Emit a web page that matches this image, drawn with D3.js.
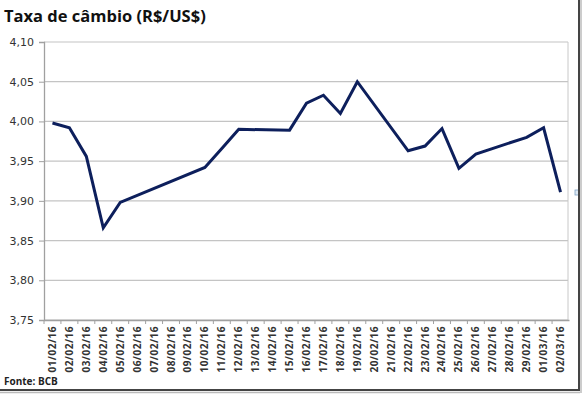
<!DOCTYPE html>
<html>
<head>
<meta charset="utf-8">
<script src="https://cdn.jsdelivr.net/npm/d3@7"></script>
<style>
  body { margin: 0; background: #fff; }
  svg { display: block; }
</style>
</head>
<body>
<div id="chart"></div>
<script>
// datas (dias sem cotacao = null, a linha liga os pontos)
var dates = ["01/02/16", "02/02/16", "03/02/16", "04/02/16", "05/02/16", "06/02/16",
    "07/02/16", "08/02/16", "09/02/16", "10/02/16", "11/02/16", "12/02/16", "13/02/16",
    "14/02/16", "15/02/16", "16/02/16", "17/02/16", "18/02/16", "19/02/16", "20/02/16",
    "21/02/16", "22/02/16", "23/02/16", "24/02/16", "25/02/16", "26/02/16", "27/02/16",
    "28/02/16", "29/02/16", "01/03/16", "02/03/16"];
var rates = [3.998, 3.992, 3.956, 3.866, 3.898, null,
    null, null, null, 3.942, 3.966, 3.990, null,
    null, 3.989, 4.023, 4.033, 4.010, 4.050, null,
    null, 3.963, 3.969, 3.991, 3.941, 3.959, null,
    null, 3.980, 3.992, 3.911];
var yTicks = [3.75, 3.80, 3.85, 3.90, 3.95, 4.00, 4.05, 4.10];

var w = 582;
var h = 394;
var pLeft = 44, pRight = 568, pTop = 42, pBottom = 320;

var svg = d3.select("#chart")
    .append("svg")
    .attr("width", w)
    .attr("height", h);

var xScale = d3.scaleBand()
    .domain(dates)
    .range([pLeft, pRight + 1])
    .padding(0);

var yScale = d3.scaleLinear()
    .domain([3.75, 4.10])
    .range([pBottom, pTop]);

var fmt = function (d) { return d3.format(".2f")(d).replace(".", ","); };

// grid
svg.append("g")
    .selectAll("line")
    .data(yTicks)
    .enter().append("line")
    .attr("x1", pLeft)
    .attr("x2", pRight)
    .attr("y1", function (d) { return yScale(d); })
    .attr("y2", function (d) { return yScale(d); })
    .attr("stroke", "#c4c4c4")
    .attr("stroke-width", 1.2);

// plot area right border
svg.append("line")
    .attr("x1", pRight).attr("x2", pRight)
    .attr("y1", pTop).attr("y2", pBottom)
    .attr("stroke", "#c8c8c8");

// y axis
var yAxis = d3.axisLeft(yScale)
    .tickValues(yTicks)
    .tickSize(5)
    .tickFormat(fmt);

var gy = svg.append("g")
    .attr("transform", "translate(" + pLeft + ",0)")
    .call(yAxis);
gy.select(".domain").attr("stroke", "#a0a0a0").attr("stroke-width", 1.3);
gy.selectAll(".tick line").attr("stroke", "#a0a0a0");
gy.selectAll("text")
    .attr("x", -10)
    .style("font-family", "DejaVu Sans, Verdana, sans-serif")
    .style("font-size", "11px")
    .attr("fill", "#333");

// x axis
var xAxis = d3.axisBottom(xScale).tickSize(0);
var gx = svg.append("g")
    .attr("transform", "translate(0," + pBottom + ")")
    .call(xAxis);
gx.select(".domain").attr("stroke", "#a0a0a0").attr("stroke-width", 1.3);
gx.selectAll("text")
    .attr("transform", "rotate(-90)")
    .attr("x", -6)
    .attr("y", 0)
    .attr("dy", "0.35em")
    .style("text-anchor", "end")
    .style("font-family", "Open Sans, sans-serif")
    .style("font-weight", "bold")
    .style("font-size", "10px")
    .style("letter-spacing", "0.5px")
    .attr("fill", "#333");

// small tick marks at band edges
svg.append("g")
    .selectAll("line")
    .data(dates)
    .enter().append("line")
    .attr("x1", function (d) { return xScale(d); })
    .attr("x2", function (d) { return xScale(d); })
    .attr("y1", pBottom)
    .attr("y2", pBottom + 4)
    .attr("stroke", "#a0a0a0");

// linha
var points = dates.map(function (d, i) { return { date: d, v: rates[i] }; })
    .filter(function (d) { return d.v !== null; });

var line = d3.line()
    .x(function (d) { return xScale(d.date) + xScale.bandwidth() / 2; })
    .y(function (d) { return yScale(d.v); });

svg.append("path")
    .datum(points)
    .attr("d", line)
    .attr("fill", "none")
    .attr("stroke", "#0d1f5c")
    .attr("stroke-width", 3)
    .attr("stroke-linejoin", "miter");

// tiny marker at the right
svg.append("rect")
    .attr("x", 575).attr("y", 190)
    .attr("width", 4).attr("height", 5)
    .attr("fill", "#dde8f2")
    .attr("stroke", "#7fa3c6")
    .attr("stroke-width", 0.8);

// title
svg.append("text")
    .text("Taxa de câmbio (R$/US$)")
    .attr("x", 4)
    .attr("y", 22)
    .style("font-family", "Open Sans, sans-serif")
    .style("font-weight", "bold")
    .style("font-size", "16.5px")
    .attr("fill", "#111");

svg.append("text")
    .text("Fonte: BCB")
    .attr("x", 4)
    .attr("y", 385)
    .style("font-family", "Open Sans, sans-serif")
    .style("font-weight", "bold")
    .style("font-size", "10px")
    .attr("fill", "#222");

// frame shadow
svg.append("line")
    .attr("x1", 579).attr("x2", 579).attr("y1", 0).attr("y2", 391)
    .attr("stroke", "#444").attr("stroke-width", 2);
svg.append("line")
    .attr("x1", 0).attr("x2", 580).attr("y1", 390).attr("y2", 390)
    .attr("stroke", "#444").attr("stroke-width", 2);
svg.append("line")
    .attr("x1", 0).attr("x2", 580).attr("y1", 392.5).attr("y2", 392.5)
    .attr("stroke", "#bbb").attr("stroke-width", 1.5);
svg.append("line")
    .attr("x1", 581).attr("x2", 581).attr("y1", 0).attr("y2", 393)
    .attr("stroke", "#bbb").attr("stroke-width", 1.5);
</script>
</body>
</html>
